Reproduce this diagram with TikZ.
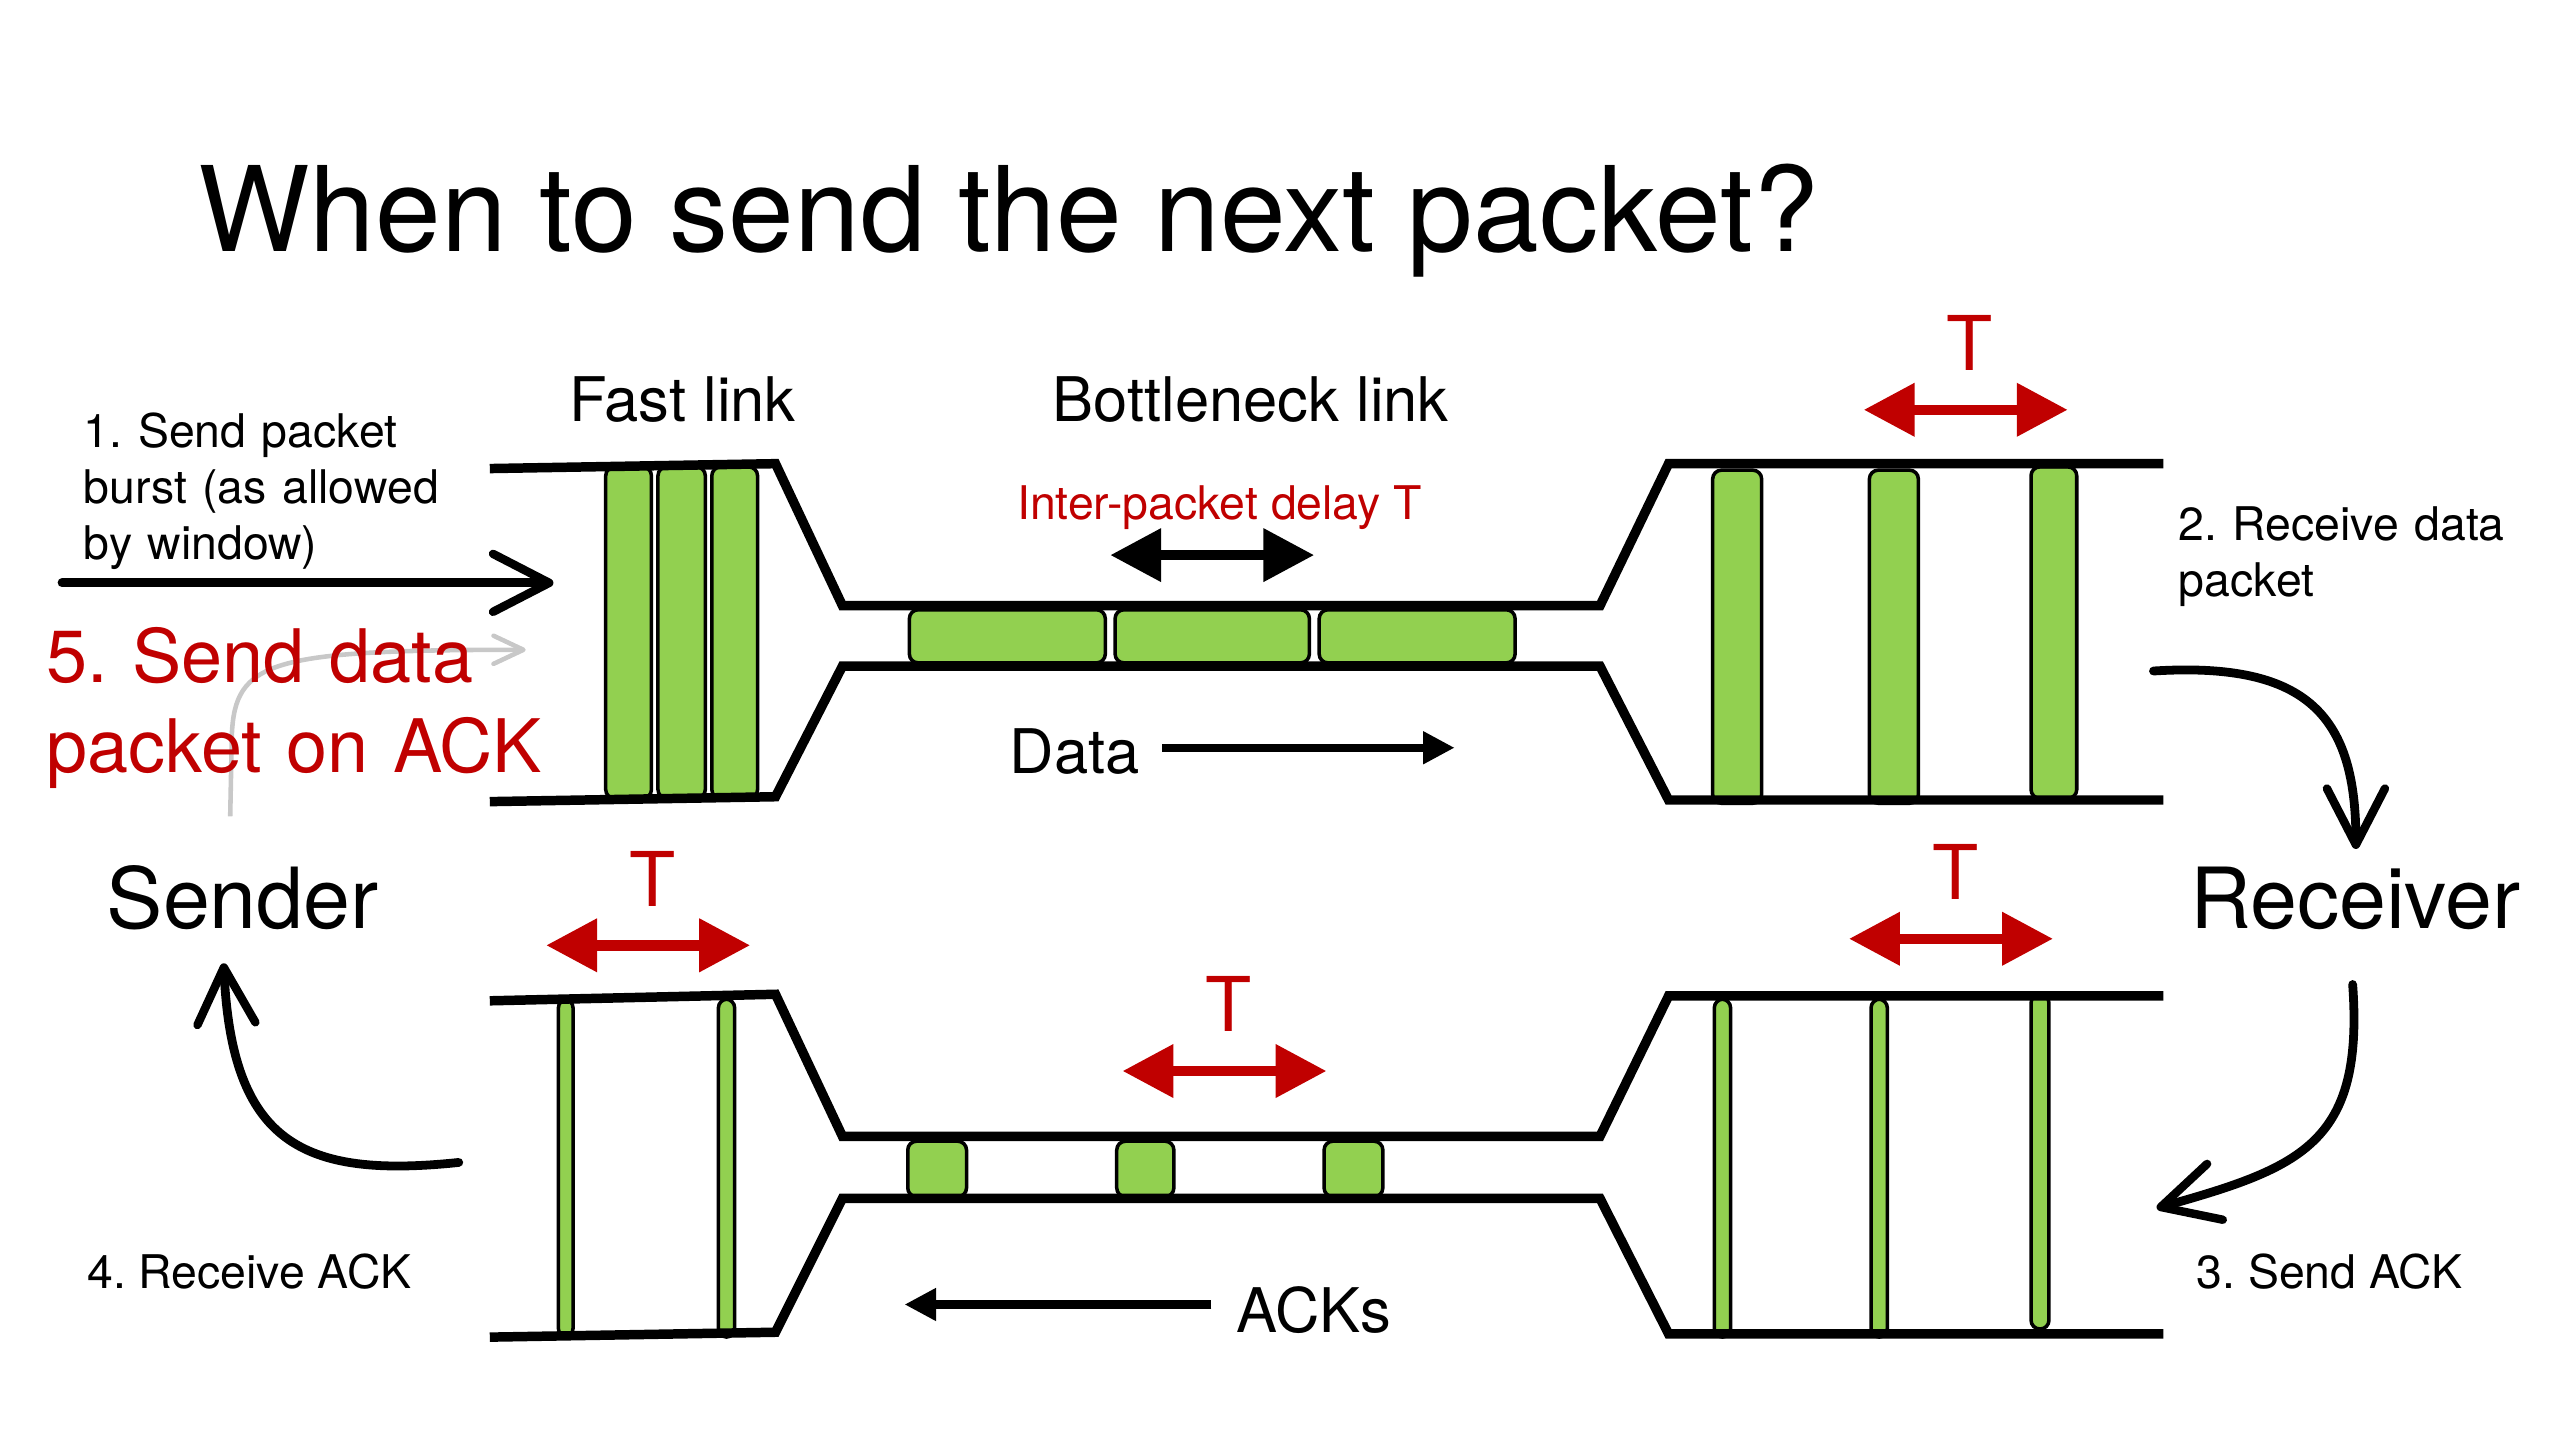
\documentclass[tikz,border=0pt]{standalone}
\usepackage{fontspec}
\setmainfont{TeX Gyre Heros}
\frenchspacing
\usetikzlibrary{arrows.meta}
\definecolor{verde}{RGB}{146,208,80}
\definecolor{rojo}{RGB}{192,0,0}
\definecolor{gris}{RGB}{200,200,200}
\tikzset{
  tubo/.style={line width=2.7pt},
  paquete/.style={draw=black, fill=verde, line width=1pt, rounded corners=2.5pt},
  titulo/.style={inner sep=0pt, font=\fontsize{33.6}{40}\selectfont},
  grande/.style={inner sep=0pt, font=\fontsize{17.5}{21}\selectfont},
  texto/.style={inner sep=0pt, font=\fontsize{13.2}{16}\selectfont},
  extremo/.style={inner sep=0pt, font=\fontsize{24}{29}\selectfont},
  letraT/.style={inner sep=0pt, text=rojo, font=\fontsize{21.5}{26}\selectfont},
  doble/.style={line width=3pt, {Triangle[length=14.5pt,width=14.5pt]}-{Triangle[length=14.5pt,width=14.5pt]}},
  flecha/.style={line width=2.4pt, -{Triangle[length=9pt,width=8.8pt]}},
  curva/.style={line width=2.5pt, line cap=round, -{Straight Barb[length=16pt,width=16.5pt,line width=2.4pt,round]}},
}
\begin{document}
\begin{tikzpicture}[x=0.16327mm, y=-0.16327mm]
  \useasboundingbox (0,0) rectangle (1568,882);

  % Titulo
  \node[titulo, anchor=base west] (titulo) at (121,154) {When to send the next packet?};

  % Paquetes de datos (arriba)
  \foreach \a/\b in {371/399, 403/432, 436/464}
    \draw[paquete] (\a,286) rectangle (\b,489);
  \foreach \a/\b in {557/677, 683/802, 808/928}
    \draw[paquete] (\a,373.5) rectangle (\b,406);
  \foreach \a/\b/\c/\d in {1049/1079/288/492, 1145/1175/288/492, 1244/1272/286/489}
    \draw[paquete] (\a,\c) rectangle (\b,\d);

  % ACKs (abajo)
  \foreach \a/\b in {342/351, 440/450}
    \draw[paquete] (\a,612) rectangle (\b,819);
  \foreach \a/\b in {556/592, 684/719, 811/847}
    \draw[paquete] (\a,699) rectangle (\b,733);
  \foreach \a/\b/\c/\d in {1050/1060/612/819, 1146/1156/612/819, 1244/1255/609/814}
    \draw[paquete] (\a,\c) rectangle (\b,\d);

  % Enlaces
  \draw[tubo] (300,287) -- (475,284) -- (516,371) -- (980,371) -- (1022,284) -- (1325,284);
  \draw[tubo] (300,491) -- (475,488) -- (516,408) -- (980,408) -- (1022,490) -- (1325,490);
  \draw[tubo] (300,613) -- (475,609) -- (516,696) -- (980,696) -- (1022,610) -- (1325,610);
  \draw[tubo] (300,819) -- (475,816) -- (516,734) -- (980,734) -- (1022,817) -- (1325,817);

  % Etiquetas de los enlaces
  \node[grande, anchor=base] (rapido) at (418,258) {Fast link};
  \node[grande, anchor=base] (cuello) at (766,258) {Bottleneck link};
  \node[texto, text=rojo, anchor=base] (retardo) at (747,318) {Inter-packet delay T};
  \coordinate (ri) at (680,340);
  \coordinate (rd) at (805,340);
  \draw[doble] (ri) -- (rd);

  % Retardos T
  \foreach \n/\x/\y in {a/1204/251, b/397/579, c/750/656, d/1195/575}{
    \coordinate (ti\n) at (\x-62.5,\y);
    \coordinate (td\n) at (\x+62.5,\y);
    \node[letraT, anchor=base] (T\n) at (\x+2.5,\y-24) {T};
    \draw[doble, rojo] (ti\n) -- (td\n);
  }

  % Sentido de los datos y de los ACKs
  \node[grande, anchor=base west] (datos) at (618,474) {Data};
  \coordinate (da) at (712,458);
  \coordinate (db) at (891,458);
  \draw[flecha] (da) -- (db);
  \node[grande, anchor=base west] (acks) at (757,816) {ACKs};
  \coordinate (aa) at (742,799);
  \coordinate (ab) at (554,799);
  \draw[flecha] (aa) -- (ab);

  % Emisor y receptor
  \node[extremo, anchor=base west] (sender) at (65,569) {Sender};
  \node[extremo, anchor=base west] (receiver) at (1341,569) {Receiver};

  % Pasos
  \node[texto, anchor=base west, text width=6cm, align=left] (paso1) at (51,274)
    {1. Send packet\\burst (as allowed\\by window)};
  \node[texto, anchor=base west, text width=6cm, align=left] (paso2) at (1334,331)
    {2. Receive data\\packet};
  \node[texto, anchor=base west] (paso3) at (1345,789) {3. Send ACK};
  \node[texto, anchor=base west] (paso4) at (53,789) {4. Receive ACK};

  % Paso 5 con flecha gris
  \coordinate (g1) at (141,500);
  \coordinate (g2) at (142,450);
  \coordinate (g3) at (322,398);
  \draw[gris, line width=1.3pt, -{Straight Barb[length=8.5pt,width=8pt,line width=1.3pt,round]}]
    (g1) -- (g2) .. controls (144,405) and (165,398) .. (g3);
  \node[anchor=base west, inner sep=0pt, text=rojo, text width=8cm, align=left,
    font=\fontsize{21}{25.5}\selectfont] (paso5) at (28,418)
    {5. Send data\\packet on ACK};

  % Flechas del ciclo
  \coordinate (e1) at (38,357);
  \coordinate (e2) at (339,357);
  \draw[curva] (e1) -- (e2);
  \coordinate (r1) at (1319,411);
  \coordinate (r2) at (1443,520);
  \draw[curva] (r1) .. controls (1415,405) and (1443,440) .. (r2);
  \coordinate (s1) at (1441,603);
  \coordinate (s2) at (1321,740);
  \draw[curva] (s1) .. controls (1448,700) and (1410,715) .. (s2);
  \coordinate (k1) at (281,712);
  \coordinate (k2) at (137,590);
  \draw[curva] (k1) .. controls (185,722) and (142,700) .. (k2);
\end{tikzpicture}
\end{document}
